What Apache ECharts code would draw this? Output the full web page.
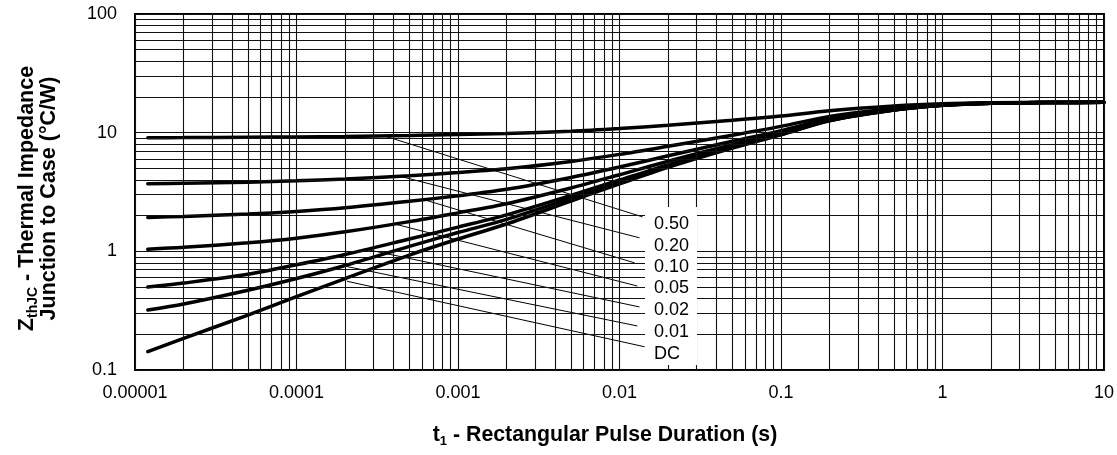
<!DOCTYPE html>
<html><head><meta charset="utf-8">
<script src="https://cdn.jsdelivr.net/npm/echarts@6/dist/echarts.min.js"></script>
<style>html,body{margin:0;padding:0;background:#fff}#c{width:1117px;height:455px}</style>
</head><body><div id="c"></div>
<script>
// ---- data ----
const X_TICK_LABELS = ['0.00001', '0.0001', '0.001', '0.01', '0.1', '1', '10'];
const Y_TICK_LABELS = ['0.1', '1', '10', '100'];
const SERIES_NAMES = ['0.50', '0.20', '0.10', '0.05', '0.02', '0.01', 'DC'];
const T = [1.2e-5, 2e-5, 5e-5, 1e-4, 2e-4, 5e-4, 1e-3, 2e-3, 5e-3, 1e-2, 2e-2, 5e-2, 0.1, 0.2, 0.5, 1, 2, 5, 10];
const Z_050 = [9.07, 9.09, 9.15, 9.21, 9.3, 9.47, 9.64, 9.85, 10.3, 10.85, 11.55, 12.7, 13.8, 15.3, 16.75, 17.5, 17.85, 18.0, 18.0];
const Z_020 = [3.71, 3.75, 3.83, 3.93, 4.07, 4.34, 4.62, 4.96, 5.72, 6.56, 7.68, 9.52, 11.3, 13.7, 16.0, 17.2, 17.75, 17.95, 18.0];
const Z_010 = [1.93, 1.97, 2.06, 2.17, 2.33, 2.64, 2.94, 3.33, 4.19, 5.13, 6.39, 8.46, 10.4, 13.1, 15.75, 17.1, 17.75, 17.95, 18.0];
const Z_005 = [1.04, 1.08, 1.18, 1.29, 1.46, 1.78, 2.11, 2.52, 3.42, 4.42, 5.75, 7.93, 10.0, 12.9, 15.6, 17.05, 17.7, 17.95, 18.0];
const Z_002 = [0.50, 0.54, 0.64, 0.77, 0.94, 1.27, 1.60, 2.03, 2.96, 3.99, 5.36, 7.61, 9.77, 12.7, 15.55, 17.02, 17.7, 17.95, 18.0];
const Z_001 = [0.32, 0.36, 0.47, 0.59, 0.76, 1.10, 1.44, 1.86, 2.80, 3.84, 5.23, 7.51, 9.68, 12.65, 15.5, 17.0, 17.7, 17.95, 18.0];
const Z_DC  = [0.143, 0.185, 0.29, 0.415, 0.59, 0.93, 1.27, 1.70, 2.65, 3.7, 5.1, 7.4, 9.6, 12.6, 15.5, 17.0, 17.7, 17.95, 18.0];
const Z_ALL = [Z_050, Z_020, Z_010, Z_005, Z_002, Z_001, Z_DC];

// ---- annotation layout ----
const LEADERS = [
  { from: [3.4e-4, 9.5],  to: [0.0139, 1.95] },
  { from: [4.35e-4, 4.3], to: [0.0133, 1.30] },
  { from: [6.3e-4, 2.7],  to: [0.0124, 0.80] },
  { from: [4.05e-4, 1.7], to: [0.0129, 0.51] },
  { from: [2.6e-4, 1.05], to: [0.0133, 0.34] },
  { from: [2.0e-4, 0.75], to: [0.0129, 0.235] },
  { from: [2.05e-4, 0.56],to: [0.0143, 0.157] }
];
const LABEL_Y = [224, 245.7, 266.7, 288, 310, 331.7, 354];

const FONT = '"Liberation Sans", Arial, Helvetica, sans-serif';
const chart = echarts.init(document.getElementById('c'), null, { renderer: 'canvas' });

const gridLines = [];
for (let e = -5; e <= 0; e++) for (let k = 1; k <= 9; k++) gridLines.push({ xAxis: k * Math.pow(10, e) });
gridLines.push({ xAxis: 10 });
for (let e = -1; e <= 1; e++) for (let k = 1; k <= 9; k++) gridLines.push({ yAxis: k * Math.pow(10, e) });
gridLines.push({ yAxis: 100 });

const series = [];
series.push({
  type: 'line', data: [[1, 1]], symbol: 'none', lineStyle: { opacity: 0 }, silent: true, z: 1,
  markLine: {
    silent: true, symbol: ['none', 'none'], label: { show: false }, animation: false,
    precision: 12,
    lineStyle: { color: '#111', width: 1.1, type: 'solid' },
    emphasis: { disabled: true },
    data: gridLines
  }
});
SERIES_NAMES.forEach((name, i) => {
  series.push({
    type: 'line', name: name, data: T.map((t, j) => [t, Z_ALL[i][j]]),
    symbol: 'none', showSymbol: false, smooth: 0.3, silent: true, z: 3,
    lineStyle: { color: '#000', width: 3.5, cap: 'round' }
  });
});
LEADERS.forEach(l => {
  series.push({
    type: 'line', data: [l.from, l.to], symbol: 'none', silent: true, z: 3,
    lineStyle: { color: '#000', width: 1 }
  });
});

const graphic = [
  { type: 'rect', shape: { x: 645, y: 207, width: 52, height: 158 }, style: { fill: '#fff' }, z: 10 }
];
SERIES_NAMES.forEach((name, i) => {
  graphic.push({
    type: 'text', x: 654, y: LABEL_Y[i], z: 11,
    style: { text: name, font: '18px ' + FONT, fill: '#000', verticalAlign: 'middle', align: 'left' }
  });
});
graphic.push({
  type: 'text', x: 605, y: 435, z: 11,
  style: {
    text: '{b|t}{s|1}{b| - Rectangular Pulse Duration (s)}',
    align: 'center', verticalAlign: 'middle',
    rich: {
      b: { fontSize: 21.3, fontWeight: 'bold', fontFamily: FONT, fill: '#000', lineHeight: 26 },
      s: { fontSize: 13, fontWeight: 'bold', fontFamily: FONT, fill: '#000', lineHeight: 12, verticalAlign: 'bottom' }
    }
  }
});
graphic.push({
  type: 'text', x: 27, y: 198.5, rotation: Math.PI / 2, z: 11,
  style: {
    text: '{b|Z}{s|thJC}{b| - Thermal Impedance}',
    align: 'center', verticalAlign: 'middle',
    rich: {
      b: { fontSize: 21.5, fontWeight: 'bold', fontFamily: FONT, fill: '#000', lineHeight: 26 },
      s: { fontSize: 14, fontWeight: 'bold', fontFamily: FONT, fill: '#000', lineHeight: 15, verticalAlign: 'bottom' }
    }
  }
});
graphic.push({
  type: 'text', x: 49, y: 198.5, rotation: Math.PI / 2, z: 11,
  style: { text: 'Junction to Case (°C/W)', font: 'bold 21.5px ' + FONT, fill: '#000', align: 'center', verticalAlign: 'middle' }
});

chart.setOption({
  animation: false,
  backgroundColor: '#fff',
  grid: { left: 135, right: 12, top: 14, bottom: 85, show: true, borderColor: '#000', borderWidth: 2, backgroundColor: 'transparent' },
  xAxis: {
    type: 'log', logBase: 10, min: 1e-5, max: 10,
    axisLine: { show: false }, axisTick: { show: false }, splitLine: { show: false },
    axisLabel: {
      margin: 14, color: '#000', fontSize: 18, fontFamily: FONT,
      formatter: v => X_TICK_LABELS[Math.round(Math.log10(v)) + 5] || ''
    }
  },
  yAxis: {
    type: 'log', logBase: 10, min: 0.1, max: 100,
    axisLine: { show: false }, axisTick: { show: false }, splitLine: { show: false },
    axisLabel: {
      margin: 18, color: '#000', fontSize: 18, fontFamily: FONT,
      formatter: v => Y_TICK_LABELS[Math.round(Math.log10(v)) + 1] || ''
    }
  },
  series: series,
  graphic: graphic
});
</script></body></html>
